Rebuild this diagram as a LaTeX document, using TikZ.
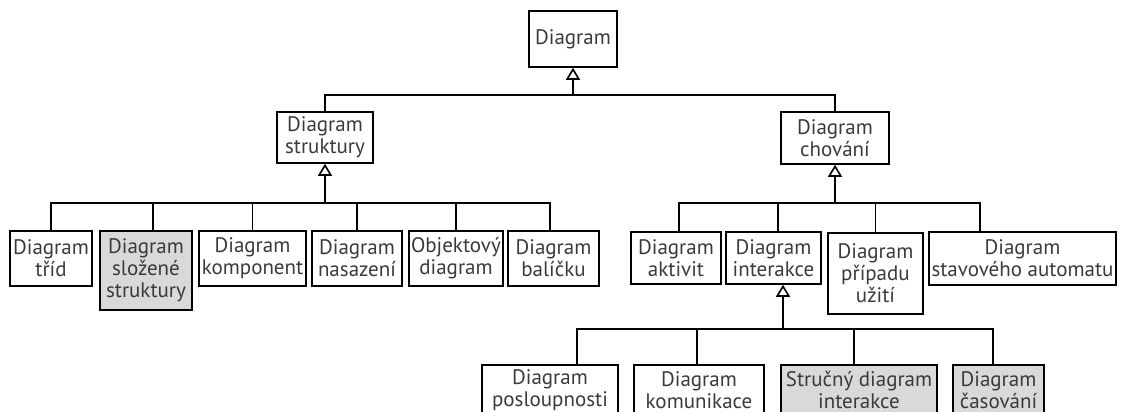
\documentclass[tikz,border=0pt]{standalone}
\usepackage{fontspec}
\setmainfont{PT Sans}
\usetikzlibrary{arrows.meta}
\definecolor{txt}{HTML}{3A3A3A}
\definecolor{shade}{HTML}{D9D9D9}
\begin{document}
\begin{tikzpicture}[x=1pt,y=-1pt,
  box/.style={draw=black, line width=1.6pt, inner sep=0pt, align=center,
    font=\fontsize{21}{22}\selectfont, text=txt},
  shaded/.style={box, fill=shade},
  link/.style={draw=black, line width=1.6pt},
  gen/.style={link, -{Triangle[open, length=12pt, width=14pt]}}]
\useasboundingbox (0,0) rectangle (1127,412);
% root
\node[box, minimum width=88pt, minimum height=56pt] (diag) at (573,39) {Diagram};
% level 1
\node[box, minimum width=96pt, minimum height=51pt] (struk) at (325,137.5) {Diagram\\struktury};
\node[box, minimum width=108pt, minimum height=52pt] (chov) at (835,138) {Diagram\\chování};
% structure children
\node[box, minimum width=82pt, minimum height=55pt] (trid) at (51,258.5) {Diagram\\tříd};
\node[shaded, minimum width=92pt, minimum height=79pt] (slozene) at (146,270.5) {Diagram\\složené\\struktury};
\node[box, minimum width=107pt, minimum height=55pt] (komp) at (252.5,258.5) {Diagram\\komponent};
\node[box, minimum width=90pt, minimum height=55pt] (nasaz) at (357,258.5) {Diagram\\nasazení};
\node[box, minimum width=94pt, minimum height=55pt] (objekt) at (456,258.5) {Objektový\\diagram};
\node[box, minimum width=91pt, minimum height=55pt] (balic) at (553.5,258.5) {Diagram\\balíčku};
% behaviour children
\node[box, minimum width=90pt, minimum height=52pt] (aktiv) at (676,258) {Diagram\\aktivit};
\node[box, minimum width=95pt, minimum height=52pt] (inter) at (773.5,258) {Diagram\\interakce};
\node[box, minimum width=95pt, minimum height=81pt] (pripad) at (875.5,273.5) {Diagram\\případu\\užití};
\node[box, minimum width=187pt, minimum height=53pt] (stav) at (1022.5,258.5) {Diagram\\stavového automatu};
% interaction children
\node[box, minimum width=136pt, minimum height=50pt] (posl) at (550,390) {Diagram\\posloupnosti};
\node[box, minimum width=130pt, minimum height=50pt] (komun) at (699,390) {Diagram\\komunikace};
\node[shaded, minimum width=156pt, minimum height=50pt] (strucny) at (859,390) {Stručný diagram\\interakce};
\node[shaded, minimum width=91pt, minimum height=50pt] (casov) at (998.5,390) {Diagram\\časování};
% junctions
\coordinate (tb) at (573,95);
\coordinate (sb) at (325,203);
\coordinate (cb) at (835,203);
\coordinate (ib) at (783,329);
% root links
\draw[gen] (tb) -- (diag.south);
\draw[link] (struk.north) |- (tb) -| (chov.north);
% structure links
\draw[gen] (sb) -- (struk.south);
\draw[link] (trid.north) |- (sb) -| ([xshift=-3.5pt]balic.north);
\draw[link] ([xshift=7pt]slozene.north) -- ([xshift=7pt]slozene.north |- sb);
\draw[link] (komp.north) -- (komp.north |- sb);
\draw[link] (nasaz.north) -- (nasaz.north |- sb);
\draw[link] (objekt.north) -- (objekt.north |- sb);
% behaviour links
\draw[gen] (cb) -- (chov.south);
\draw[link] ([xshift=3pt]aktiv.north) |- (cb) -| ([xshift=-42.5pt]stav.north);
\draw[link] ([xshift=4.5pt]inter.north) -- ([xshift=4.5pt]inter.north |- cb);
\draw[link] (pripad.north) -- (pripad.north |- cb);
% interaction links
\draw[gen] (ib) -- (ib |- inter.south);
\draw[link] ([xshift=27pt]posl.north) |- (ib) -| ([xshift=-5.5pt]casov.north);
\draw[link] ([xshift=-2pt]komun.north) -- ([xshift=-2pt]komun.north |- ib);
\draw[link] ([xshift=-5pt]strucny.north) -- ([xshift=-5pt]strucny.north |- ib);
\end{tikzpicture}
\end{document}
